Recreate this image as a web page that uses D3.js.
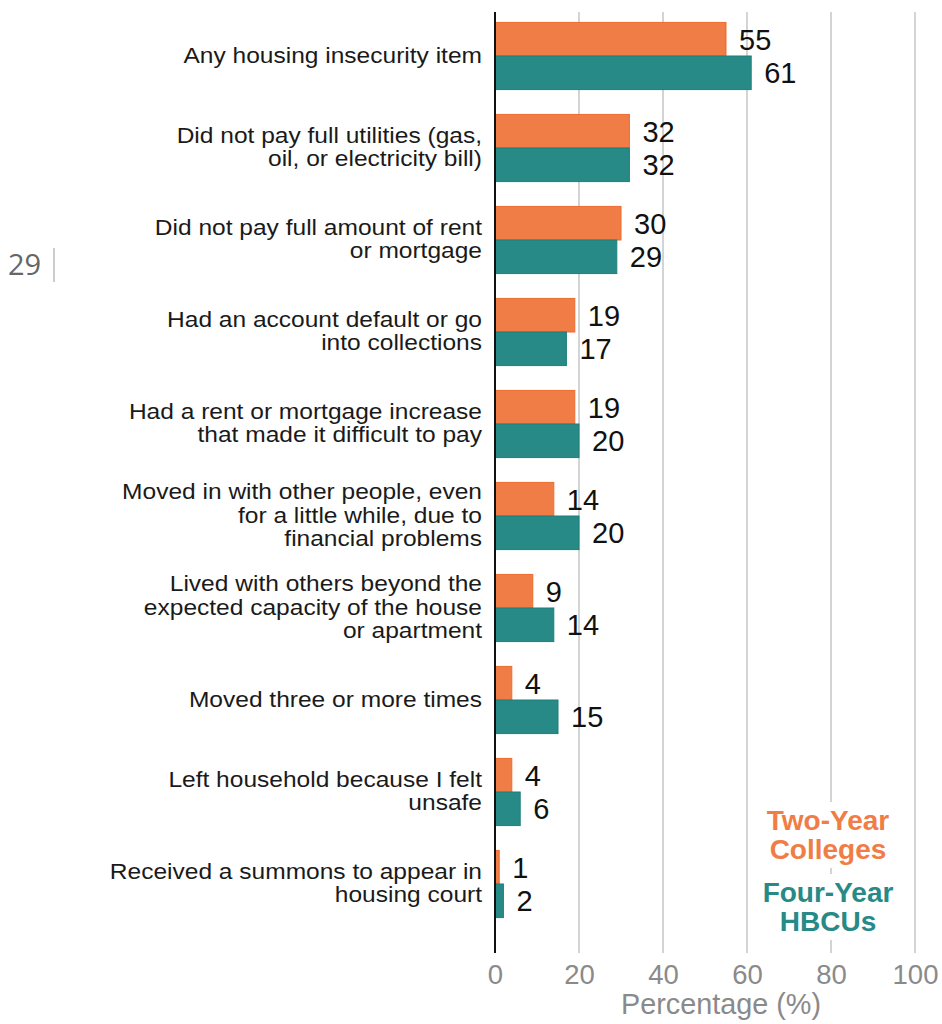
<!DOCTYPE html>
<html>
<head>
<meta charset="utf-8">
<script src="https://cdn.jsdelivr.net/npm/d3@7"></script>
<style>
  body { margin: 0; background: #fff; }
  svg { display: block; }
  svg text { font-family: Arial, "Liberation Sans", Helvetica, sans-serif; }
</style>
</head>
<body>
<div id="chart"></div>
<script>
const WIDTH = 942;
const HEIGHT = 1024;

const categories = [
  ["Any housing insecurity item"],
  ["Did not pay full utilities (gas,", "oil, or electricity bill)"],
  ["Did not pay full amount of rent", "or mortgage"],
  ["Had an account default or go", "into collections"],
  ["Had a rent or mortgage increase", "that made it difficult to pay"],
  ["Moved in with other people, even", "for a little while, due to", "financial problems"],
  ["Lived with others beyond the", "expected capacity of the house", "or apartment"],
  ["Moved three or more times"],
  ["Left household because I felt", "unsafe"],
  ["Received a summons to appear in", "housing court"]
];
const twoYear = [55, 32, 30, 19, 19, 14, 9, 4, 4, 1];
const fourYear = [61, 32, 29, 17, 20, 20, 14, 15, 6, 2];
const xTicks = [0, 20, 40, 60, 80, 100];
const seriesNames = [["Two-Year", "Colleges"], ["Four-Year", "HBCUs"]];

const ORANGE = "#f07d45";
const TEAL = "#278a86";
const FONT = "Arial, 'Liberation Sans', Helvetica, sans-serif";

const svg = d3.select("#chart").append("svg")
  .attr("width", WIDTH)
  .attr("height", HEIGHT);

const x = d3.scaleLinear().domain([0, 100]).range([495, 915]);
const y = d3.scaleBand()
  .domain(d3.range(categories.length))
  .range([10, 930])
  .paddingInner(0.27)
  .paddingOuter(0.135);
const half = y.bandwidth() / 2;

// gridlines
svg.append("g").selectAll("line")
  .data(xTicks.slice(1))
  .join("line")
  .attr("x1", d => x(d)).attr("x2", d => x(d))
  .attr("y1", 12).attr("y2", 953)
  .attr("stroke", "#d4d4d4")
  .attr("stroke-width", 2);

// bars
const data = categories.map((c, i) => ({ label: c, a: twoYear[i], b: fourYear[i], i }));
const rows = svg.append("g").selectAll("g")
  .data(data)
  .join("g")
  .attr("transform", d => `translate(0,${y(d.i)})`);

rows.append("rect")
  .attr("x", x(0)).attr("y", 0)
  .attr("width", d => x(d.a) - x(0))
  .attr("height", half)
  .attr("fill", ORANGE)
  .attr("stroke", "#ec6b2e").attr("stroke-width", 1);

rows.append("rect")
  .attr("x", x(0)).attr("y", half)
  .attr("width", d => x(d.b) - x(0))
  .attr("height", half)
  .attr("fill", TEAL)
  .attr("stroke", "#1d7f7b").attr("stroke-width", 1);

rows.append("text")
  .attr("x", d => x(d.a) + 13)
  .attr("y", half / 2)
  .attr("dy", "0.36em")
  .style("font-size", "29px")
  .attr("fill", "#111")
  .text(d => d.a);

rows.append("text")
  .attr("x", d => x(d.b) + 13)
  .attr("y", half * 1.5)
  .attr("dy", "0.36em")
  .style("font-size", "29px")
  .attr("fill", "#111")
  .text(d => d.b);

// category labels (slightly wide glyphs, as in the source image)
svg.append("g").selectAll("text")
  .data(data)
  .join("text")
  .attr("transform", d => `translate(482,${y(d.i) + half}) scale(1.1,1)`)
  .attr("text-anchor", "end")
  .style("font-size", "22.3px")
  .attr("fill", "#1a1a1a")
  .each(function(d) {
    const n = d.label.length;
    d3.select(this).selectAll("tspan")
      .data(d.label)
      .join("tspan")
      .attr("x", 0)
      .attr("y", (t, k) => (k - (n - 1) / 2) * 23.8 + 6.5)
      .text(t => t);
  });

// y axis line
svg.append("line")
  .attr("x1", x(0)).attr("x2", x(0))
  .attr("y1", 12).attr("y2", 953)
  .attr("stroke", "#111").attr("stroke-width", 2);

// x axis ticks
const xAxis = svg.append("g")
  .attr("transform", "translate(0,953)")
  .call(d3.axisBottom(x).tickValues(xTicks).tickSize(0).tickPadding(11));
xAxis.select(".domain").remove();
xAxis.selectAll("text")
  .style("font-size", "27.5px")
  .style("font-family", FONT)
  .attr("fill", "#8a8a8a");

svg.append("text")
  .attr("x", 721).attr("y", 1014)
  .attr("text-anchor", "middle")
  .style("font-size", "28.8px")
  .attr("fill", "#8a8a8a")
  .text("Percentage (%)");

// legend
const legendColors = [ORANGE, TEAL];
const legendY = [830, 902];
seriesNames.forEach((lines, s) => {
  const g = svg.append("g");
  const bg = g.append("rect").attr("fill", "#fff");
  const t = g.append("text")
    .attr("text-anchor", "middle")
    .style("font-size", "28px")
    .style("font-weight", "bold")
    .attr("fill", legendColors[s]);
  t.selectAll("tspan").data(lines).join("tspan")
    .attr("x", 828)
    .attr("y", (d, k) => legendY[s] + k * 29)
    .text(d => d);
  const bb = t.node().getBBox();
  bg.attr("x", bb.x - 6).attr("y", bb.y - 3)
    .attr("width", bb.width + 12).attr("height", bb.height + 6);
});

// page number
svg.append("text")
  .attr("x", 8).attr("y", 275)
  .style("font-size", "29px")
  .style("font-family", "'Open Sans', sans-serif")
  .attr("fill", "#666")
  .text("29");
svg.append("line")
  .attr("x1", 54).attr("x2", 54)
  .attr("y1", 248).attr("y2", 282)
  .attr("stroke", "#bbb").attr("stroke-width", 1.5);
</script>
</body>
</html>
